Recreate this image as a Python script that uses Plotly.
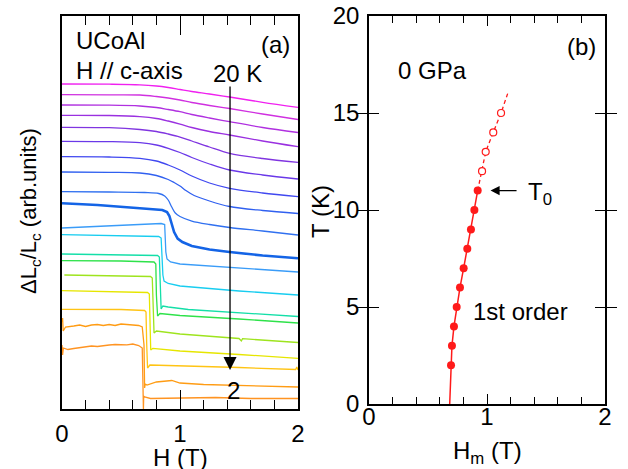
import plotly.graph_objects as go

# ---------------- Panel (a): dL_c/L_c vs H, 2 K ... 20 K (arb. units) -------------
temps = [20, 19, 18, 17, 16, 15, 14, 13, 12, 11, 10, 9, 8, 7, 6, 5, 4, 3, 2]

h_smooth = [0, 0.4, 0.66, 0.8, 0.9, 1.0, 1.1, 1.25, 1.42, 1.7, 2.0]
d20 = [32.5, 32.48, 32.42, 32.3, 32.15, 31.95, 31.75, 31.5, 31.2, 30.67, 30.17]
d19 = [31.43, 31.42, 31.4, 31.25, 31.1, 30.9, 30.65, 30.35, 30.05, 29.5, 28.95]
d18 = [30.4, 30.38, 30.3, 30.15, 29.95, 29.73, 29.45, 29.1, 28.73, 28.15, 27.65]
d17 = [29.37, 29.35, 29.23, 29.05, 28.8, 28.5, 28.15, 27.75, 27.4, 26.8, 26.23]
d16 = [28.17, 28.13, 27.95, 27.75, 27.5, 27.2, 26.8, 26.2, 25.57, 25.05, 24.67]
d15 = [26.77, 26.74, 26.63, 26.4, 26.07, 25.65, 25.15, 24.5, 23.9, 23.4, 23.0]
d14 = [25.23, 25.2, 25.07, 24.8, 24.4, 23.9, 23.3, 22.6, 22.07, 21.6, 21.23]

h13 = [0, 0.4, 0.66, 0.8, 0.9, 0.95, 1.0, 1.05, 1.12, 1.25, 1.42, 1.7, 2.0]
d13 = [23.7, 23.66, 23.6, 23.35, 22.95, 22.65, 22.3, 21.85, 21.35, 20.8, 20.25, 19.85, 19.55]

h12 = [0, 0.4, 0.7, 0.82, 0.87, 0.9, 0.93, 0.96, 1.0, 1.1, 1.25, 1.42, 1.7, 2.0]
d12 = [21.73, 21.7, 21.65, 21.55, 21.3, 20.9, 20.2, 19.6, 19.25, 18.8, 18.45, 18.15, 17.8, 17.4]

h11 = [0, 0.3, 0.66, 0.85, 0.89, 0.91, 0.93, 0.95, 0.98, 1.02, 1.1, 1.25, 1.42, 1.7, 2.0]
d11 = [20.57, 20.4, 20.07, 19.9, 19.7, 19.3, 18.5, 17.7, 17.05, 16.7, 16.3, 15.95, 15.7, 15.35, 15.07]

h10 = [0, 0.4, 0.84, 0.87, 0.875, 0.88, 0.89, 0.92, 1.0, 1.2, 1.42, 1.7, 2.0]
d10 = [18.1, 18.3, 18.55, 18.45, 17.4, 15.7, 15.0, 14.7, 14.5, 14.35, 14.2, 14.0, 13.7]

h9 = [0, 0.5, 0.82, 0.84, 0.848, 0.855, 0.865, 0.9, 1.0, 1.2, 1.5, 2.0]
d9 = [17.43, 17.35, 17.25, 17.1, 15.4, 13.4, 12.8, 12.55, 12.3, 12.1, 11.8, 11.4]

h8 = [0, 0.5, 0.81, 0.825, 0.832, 0.84, 0.855, 0.9, 1.07, 1.5, 2.0]
d8 = [15.5, 15.45, 15.35, 15.2, 12.4, 10.0, 10.3, 10.2, 9.95, 9.6, 9.25]

h7 = [0, 0.5, 0.78, 0.795, 0.8, 0.81, 0.83, 1.0, 1.5, 2.0]
d7 = [14.83, 14.8, 14.7, 14.5, 11.4, 9.3, 9.55, 9.35, 9.0, 8.6]

h6 = [0.02, 0.5, 0.75, 0.765, 0.772, 0.78, 0.8, 1.0, 1.5, 1.52, 1.53, 2.0]
d6 = [13.4, 13.35, 13.25, 13.1, 9.9, 7.6, 7.8, 7.5, 7.05, 6.8, 7.03, 6.65]

h5 = [0, 0.5, 0.725, 0.74, 0.745, 0.752, 0.77, 1.0, 1.5, 2.0]
d5 = [11.83, 11.75, 11.65, 11.5, 7.9, 5.9, 6.07, 5.8, 5.45, 5.07]

h4 = [0, 0.5, 0.7, 0.712, 0.718, 0.725, 0.745, 1.0, 1.5, 1.98, 1.99, 2.0]
d4 = [9.97, 9.95, 9.85, 9.7, 6.4, 4.1, 4.4, 4.33, 4.15, 3.95, 4.2, 3.9]

h3 = [0, 0.005, 0.01, 0.03, 0.1, 0.15, 0.2, 0.25, 0.3, 0.35, 0.4, 0.45, 0.5, 0.55,
      0.6, 0.65, 0.68, 0.695, 0.70, 0.705, 0.72, 0.8, 0.93, 1.0, 1.2, 1.5, 2.0]
d3 = [8.7, 9.1, 7.8, 8.2, 8.3, 8.4, 8.25, 8.4, 8.45, 8.35, 8.45, 8.35, 8.5, 8.45,
      8.4, 8.35, 8.2, 6.4, 2.1, 2.5, 2.4, 2.7, 2.85, 2.6, 2.45, 2.35, 2.2]

h2 = [0, 0.005, 0.012, 0.05, 0.1, 0.15, 0.2, 0.25, 0.3, 0.35, 0.4, 0.45, 0.5, 0.55,
      0.6, 0.65, 0.68, 0.69, 0.692, 0.695, 0.70, 0.75, 1.0, 1.3, 1.6, 2.0]
d2 = [6.4, 5.4, 6.1, 5.95, 6.05, 6.15, 6.2, 6.3, 6.25, 6.35, 6.4, 6.45, 6.4, 6.42,
      6.5, 6.35, 6.1, 0.0, 1.1, 1.25, 1.2, 1.05, 1.1, 1.15, 1.05, 1.05]

curve_h = [h_smooth] * 7 + [h13, h12, h11, h10, h9, h8, h7, h6, h5, h4, h3, h2]
curve_d = [d20, d19, d18, d17, d16, d15, d14, d13, d12, d11, d10, d9, d8, d7, d6, d5, d4, d3, d2]
curve_colors = ['#f020f0', '#d030e0', '#b030e0', '#9a30e0', '#8035e0', '#6a38e8',
                '#4048f0', '#3060f0', '#3070f0', '#1464e6', '#3a9cf8', '#18cdf0',
                '#14dfa8', '#2ee24a', '#9ee41e', '#e6e600', '#ffc414', '#ff9c14', '#ff9422']

# ---------------- Panel (b): H_m vs T at 0 GPa -------------------------------------
t_first = [2, 3, 4, 5, 6, 7, 8, 9, 10, 11]
hm_first = [0.695, 0.703, 0.72, 0.743, 0.771, 0.802, 0.833, 0.864, 0.893, 0.921]
t_cross = [12, 13, 14, 15]
hm_cross = [0.958, 0.989, 1.053, 1.119]
t_line = [0, 2, 3, 4, 5, 6, 7, 8, 9, 10, 11]
hm_line = [0.684, 0.695, 0.703, 0.72, 0.743, 0.771, 0.802, 0.833, 0.864, 0.893, 0.921]
t_dash = [11, 12, 13, 14, 15, 16.0]
hm_dash = [0.921, 0.958, 0.989, 1.053, 1.119, 1.175]

FONT = "Liberation Sans, Arial, Helvetica, sans-serif"
fig = go.Figure()

for T, hx, dy, col in zip(temps, curve_h, curve_d, curve_colors):
    smooth = T >= 12
    fig.add_trace(go.Scatter(
        x=hx, y=dy, mode='lines', xaxis='x', yaxis='y',
        line=dict(color=col, width=2.6 if T == 11 else 1.3,
                  shape='spline' if smooth else 'linear', smoothing=0.9),
        name=f'{T} K', showlegend=False, hoverinfo='skip'))

fig.add_trace(go.Scatter(x=hm_line, y=t_line, mode='lines', xaxis='x2', yaxis='y2',
                         line=dict(color='#ff1a1a', width=1.5), showlegend=False))
fig.add_trace(go.Scatter(x=hm_dash, y=t_dash, mode='lines', xaxis='x2', yaxis='y2',
                         line=dict(color='#ff1a1a', width=1.3, dash='4px,3px'), showlegend=False))
fig.add_trace(go.Scatter(x=hm_first, y=t_first, mode='markers', xaxis='x2', yaxis='y2',
                         marker=dict(color='#ff1a1a', size=8, line=dict(width=0)), showlegend=False))
fig.add_trace(go.Scatter(x=hm_cross, y=t_cross, mode='markers', xaxis='x2', yaxis='y2',
                         marker=dict(color='white', size=7, line=dict(color='#ff1a1a', width=1.2)),
                         showlegend=False))
# carrier trace for the label axis of panel (b)
fig.add_trace(go.Scatter(x=[0, 2], y=[0, 0], mode='markers', xaxis='x3', yaxis='y2',
                         marker=dict(opacity=0), showlegend=False, hoverinfo='skip'))

axis_common = dict(showline=True, linecolor='black', linewidth=1.6, mirror='allticks',
                   ticks='inside', tickcolor='black', tickwidth=1.3, showgrid=False,
                   zeroline=False, automargin=False,
                   tickfont=dict(family=FONT, size=24, color='black'))

fig.update_layout(
    width=628, height=469, margin=dict(l=0, r=0, t=0, b=0, autoexpand=False),
    paper_bgcolor='white', plot_bgcolor='white',
    font=dict(family=FONT, size=24, color='black'),
    xaxis=dict(axis_common, domain=[0.09873, 0.47452], anchor='y', range=[0, 2],
               tickvals=[0, 1, 2], ticklen=19, ticklabelstandoff=2,
               minor=dict(dtick=0.2, tick0=0, ticklen=9, ticks='inside', tickcolor='black', tickwidth=1.3)),
    yaxis=dict(axis_common, domain=[0.12793, 0.96588], anchor='x', range=[0, 39.3],
               ticks='', showticklabels=False),
    xaxis2=dict(axis_common, domain=[0.58758, 0.96338], anchor='y2', range=[0, 2],
                tickvals=[0, 1, 2], ticklen=10, showticklabels=False,
                minor=dict(dtick=0.2, tick0=0, ticklen=7, ticks='inside', tickcolor='black', tickwidth=1.3)),
    xaxis3=dict(domain=[0.58758, 0.96338], anchor='free', position=0.1471, range=[0, 2],
                overlaying='x2', tickvals=[0, 1, 2], showline=False, ticks='', showgrid=False,
                zeroline=False, automargin=False,
                tickfont=dict(family=FONT, size=24, color='black')),
    yaxis2=dict(axis_common, domain=[0.13859, 0.96588], anchor='x2', range=[0, 20],
                tickvals=[0, 5, 10, 15, 20], ticklen=10, ticklabelstandoff=3),
)

def note(text, x, y, xanchor='left', size=24, angle=0):
    fig.add_annotation(text=text, x=x / 628, y=1 - y / 469, xref='paper', yref='paper',
                       xanchor=xanchor, yanchor='middle', showarrow=False, textangle=angle,
                       font=dict(family=FONT, size=size, color='black'))

note('UCoAl', 74, 41)
note('H // c-axis', 74, 70)
note('20 K', 211, 74)
note('(a)', 259, 44)
note('2', 233.5, 390, xanchor='center')
note('H (T)', 180, 457, xanchor='center')
note('ΔL<sub>c</sub>/L<sub>c</sub> (arb.units)', 30, 211, xanchor='center', size=22, angle=-90)
note('0 GPa', 396, 70)
note('(b)', 565, 46)
note('T<sub>0</sub>', 526, 193)
note('1st order', 471, 311)
note('H<sub>m</sub> (T)', 487, 452, xanchor='center')
note('T (K)', 320, 212, xanchor='center', angle=-90)

# arrow in (a): 20 K -> 2 K
fig.add_annotation(x=1.424, y=3.9, ax=1.424, ay=32.4, xref='x', yref='y', axref='x', ayref='y',
                   showarrow=True, arrowhead=2, arrowsize=2.0, arrowwidth=1.3, arrowcolor='black', text='')
# arrow in (b): T0
fig.add_annotation(x=1.03, y=11, ax=1.263, ay=11, xref='x2', yref='y2', axref='x2', ayref='y2',
                   showarrow=True, arrowhead=2, arrowsize=1.4, arrowwidth=1.3, arrowcolor='black', text='')

fig.write_html("out.html")
